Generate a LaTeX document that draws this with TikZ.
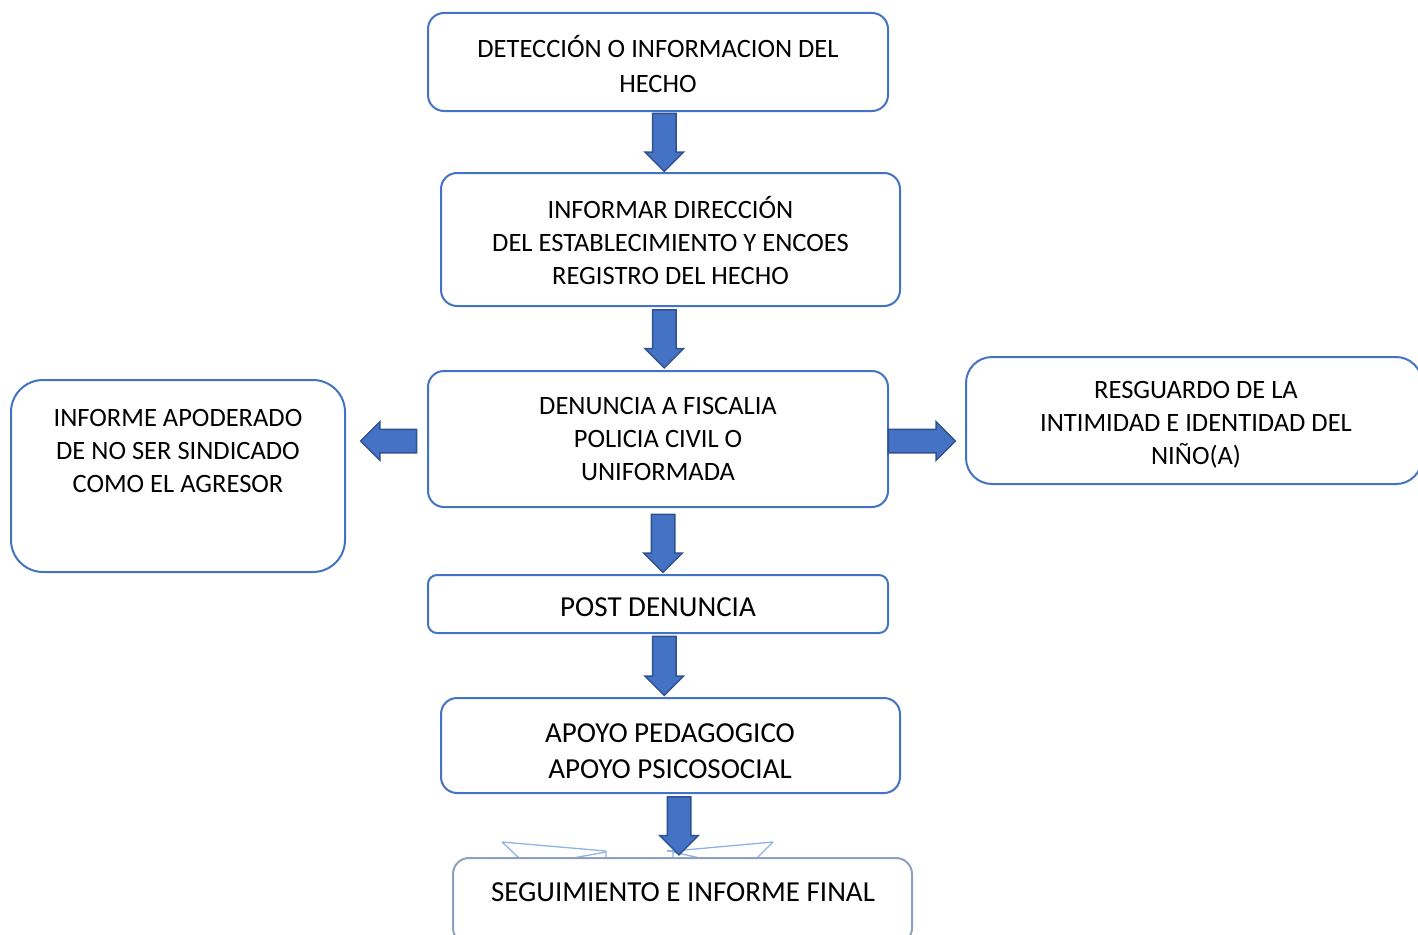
\documentclass[tikz,border=0pt]{standalone}
\usepackage{fontspec}
\setmainfont{Carlito}
\usetikzlibrary{shapes.arrows,calc}
\definecolor{boxblue}{HTML}{4472C4}
\definecolor{arrowedge}{HTML}{2F528F}
\definecolor{paleblue}{HTML}{8FB4E3}
\definecolor{greyblue}{HTML}{8EA0BE}
\tikzset{
  box/.style={draw=boxblue, line width=2pt, fill=white, rounded corners=#1, inner sep=0pt},
  box/.default=16pt,
  txt/.style={align=center, inner sep=0pt, font=\fontsize{26.5}{33}\selectfont},
  bigtxt/.style={align=center, inner sep=0pt, font=\fontsize{29}{36}\selectfont},
  blockarrow/.style={single arrow, fill=boxblue, draw=arrowedge, line width=1.5pt,
    inner xsep=0pt, inner ysep=11pt, single arrow head extend=7.5pt,
    minimum height=#1},
  stray/.style={draw=paleblue, line width=1.3pt}
}
\begin{document}
\begin{tikzpicture}[x=1pt, y=-1pt]
\useasboundingbox (0,0) rectangle (1418,934);

% main column of steps
\node[box, minimum width=460pt, minimum height=98pt] (b1) at (658,62) {};
\node[box, minimum width=459pt, minimum height=133pt] (b2) at (670.5,239.5) {};
\node[box, minimum width=460pt, minimum height=136pt] (b3) at (658,439) {};
\node[box=32pt, minimum width=334pt, minimum height=192pt] (b4) at (178,476) {};
\node[box=26pt, minimum width=456pt, minimum height=127pt] (b5) at (1194,420.5) {};
\node[box=9pt, minimum width=460pt, minimum height=58pt] (b6) at (658,604) {};
\node[box, minimum width=459pt, minimum height=95pt] (b7) at (670.5,745.5) {};

% faint outlines partly hidden behind the last box
\draw[stray] (502,842) -- (606,851) -- (606,858);
\draw[stray] (502,842) -- (519,858);
\draw[stray] (606,852) -- (573,858);
\draw[stray] (773,842) -- (673,851) -- (673,858);
\draw[stray] (773,842) -- (757,858);
\draw[stray] (673,852) -- (700,858);
\draw[stray] (667,851) -- (677,851);

\node[box, draw=greyblue, minimum width=459pt, minimum height=86pt] (b8) at (682.5,901) {};

% texts
\node[txt, font=\fontsize{26.5}{35}\selectfont] (t1) at (658,64.5) {DETECCIÓN O INFORMACION DEL\\HECHO};
\node[txt] (t2) at (670.5,240.5) {INFORMAR DIRECCIÓN\\DEL ESTABLECIMIENTO Y ENCOES\\REGISTRO DEL HECHO};
\node[txt] (t3) at (658,438.5) {DENUNCIA A FISCALIA\\POLICIA CIVIL O\\UNIFORMADA};
\node[txt] (t4) at (178,451) {INFORME APODERADO\\DE NO SER SINDICADO\\COMO EL AGRESOR};
\node[txt] (t5) at (1196,424.5) {RESGUARDO DE LA\\INTIMIDAD E IDENTIDAD DEL\\NIÑO(A)};
\node[bigtxt] (t6) at (658,607) {POST DENUNCIA};
\node[bigtxt] (t7) at (670,751) {APOYO PEDAGOGICO\\APOYO PSICOSOCIAL};
\node[bigtxt] (t8) at (683,892) {SEGUIMIENTO E INFORME FINAL};

% block arrows between the steps
\node[blockarrow=58pt, rotate=-90] (a1) at ($(b1.south)!0.5!(b2.north)+(0,-5.5)$) {};
\node[blockarrow=58pt, rotate=-90] (a2) at ($(b2.south)!0.5!(b3.north)+(0,-5.5)$) {};
\node[blockarrow=58pt, rotate=-90] (a3) at ($(b3.south)!0.5!(b6.north)+(5,-3.5)$) {};
\node[blockarrow=59pt, rotate=-90] (a4) at ($(b6.south)!0.5!(b7.north)+(0,-5.5)$) {};
\node[blockarrow=58pt, rotate=-90] (a5) at ($(b7.south)!0.5!(b8.north)+(2.5,-5.5)$) {};
\node[blockarrow=56pt, rotate=180] (a6) at ($(b3.west)!0.5!(b4.east|-b3.west)+(8,2)$) {};
\node[blockarrow=67pt] (a7) at ($(b3.east)!0.5!(b5.west|-b3.east)+(-11,2)$) {};
\end{tikzpicture}
\end{document}
